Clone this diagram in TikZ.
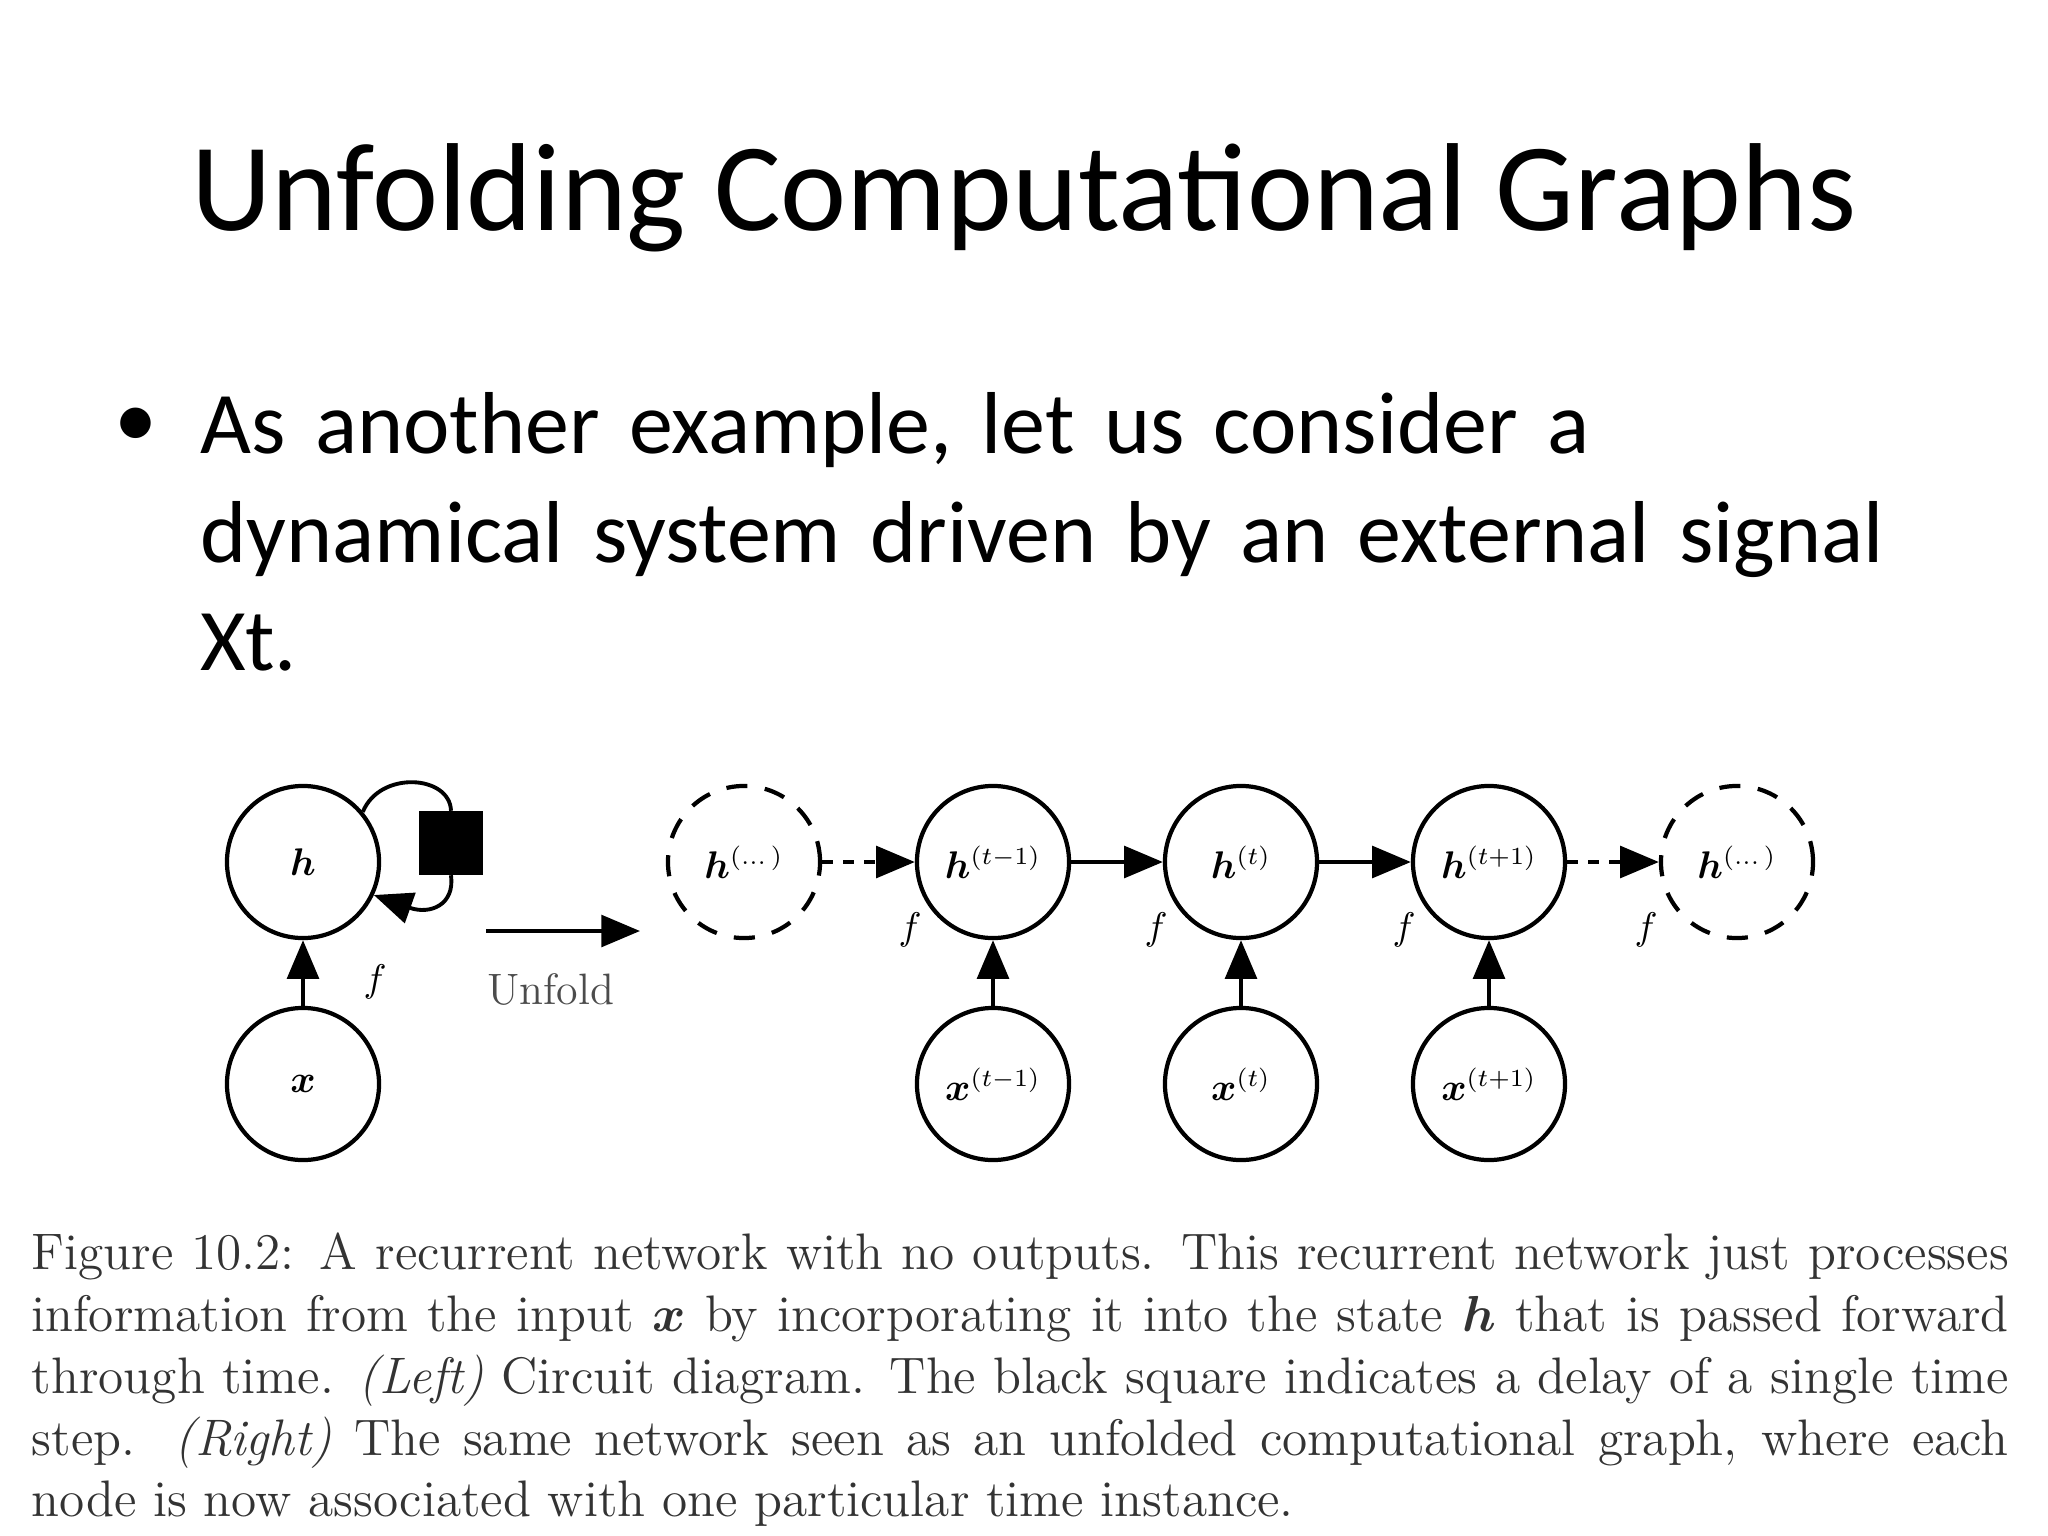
\documentclass[tikz,border=0pt]{standalone}
\usepackage{fontspec}
\usepackage{amsmath,bm}
\usetikzlibrary{arrows.meta}
\newfontfamily\carl{Carlito}
\begin{document}
\begin{tikzpicture}[x=0.01cm,y=-0.01cm,
  st/.style={circle,draw,line width=1.2pt,minimum size=1.52cm,inner sep=0pt,font=\fontsize{10.5}{12}\selectfont},
  dst/.style={st,dashed,dash pattern=on 6pt off 5pt},
  ar/.style={line width=1.1pt,-{Triangle[length=11pt,width=9pt]}},
  fl/.style={font=\fontsize{10.5}{12}\selectfont}]
\useasboundingbox (0,0) rectangle (2048,1536);
\node[font=\carl\fontsize{35.6}{40}\selectfont] (title) at (1024,198) {Unfolding Computational Graphs};
\node[anchor=north west,font=\carl\fontsize{25}{30.8}\selectfont,align=left,text width=17.8cm,inner sep=0pt] (body) at (200,392)
 {As another example, let us consider a\\dynamical system driven by an external signal\\Xt.};
\node[font=\carl\fontsize{24.5}{30}\selectfont] (bul) at (136,428) {•};
% left circuit
\node[st] (h) at (303,862) {$\bm{h}$};
\node[st] (x) at (303,1084) {$\bm{x}$};
\node[fill=black,minimum width=0.63cm,minimum height=0.63cm,inner sep=0pt] (sq) at (451,843) {};
\draw[line width=1.1pt] (h.40) .. controls (380,770) and (450,775) .. (sq.north);
\draw[ar] (sq.south) .. controls (455,905) and (430,915) .. (h.-25);
\draw[ar] (x) -- (h);
\node[fl] (f0) at (375,982) {$f$};
\coordinate (u1) at (486,931); \coordinate (u2) at (640,931);
\draw[ar] (u1) -- (u2);
\node[font=\fontsize{12.5}{14}\selectfont,text=black!70] (unf) at (551,989) {Unfold};
% unfolded
\node[dst] (hd1) at (744,862) {$\bm{h}^{(\dots)}$};
\node[st] (h1) at (993,862) {$\bm{h}^{(t-1)}$};
\node[st] (h2) at (1241,862) {$\bm{h}^{(t)}$};
\node[st] (h3) at (1489,862) {$\bm{h}^{(t+1)}$};
\node[dst] (hd2) at (1737,862) {$\bm{h}^{(\dots)}$};
\node[st] (x1) at (993,1084) {$\bm{x}^{(t-1)}$};
\node[st] (x2) at (1241,1084) {$\bm{x}^{(t)}$};
\node[st] (x3) at (1489,1084) {$\bm{x}^{(t+1)}$};
\draw[ar,dashed] (hd1) -- (h1);
\draw[ar] (h1) -- (h2);
\draw[ar] (h2) -- (h3);
\draw[ar,dashed] (h3) -- (hd2);
\draw[ar] (x1) -- (h1); \draw[ar] (x2) -- (h2); \draw[ar] (x3) -- (h3);
\node[fl] (f1) at (910,930) {$f$};
\node[fl] (f2) at (1156,930) {$f$};
\node[fl] (f3) at (1404,930) {$f$};
\node[fl] (f4) at (1646,930) {$f$};
% caption
\node[anchor=north west,inner sep=0pt,text=black!80,font=\fontsize{14.6}{17.6}\selectfont] (cap) at (31,1232)
{\parbox{19.76cm}{Figure 10.2: A recurrent network with no outputs. This recurrent network just processes\linebreak
information from the input $\bm{x}$ by incorporating it into the state $\bm{h}$ that is passed forward\linebreak
through time. \emph{(Left)} Circuit diagram. The black square indicates a delay of a single time\linebreak
step. \emph{(Right)} The same network seen as an unfolded computational graph, where each\linebreak
node is now associated with one particular time instance.}};
\end{tikzpicture}
\end{document}
